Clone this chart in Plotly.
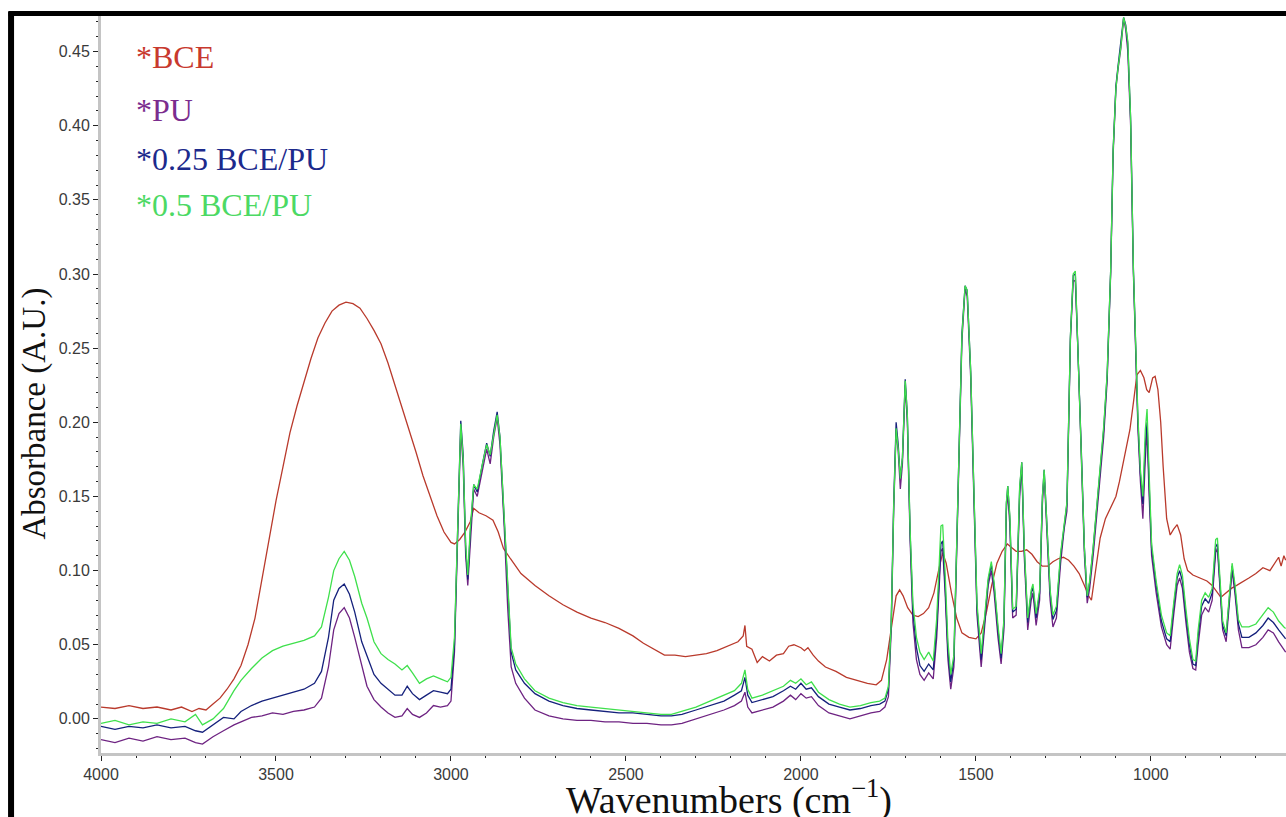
import plotly.graph_objects as go

# ---------------- data ----------------
wn_bce = [4000, 3960, 3920, 3880, 3840, 3800, 3770, 3740, 3720, 3700, 3680, 3660, 3640, 3620, 3600,
          3580, 3560, 3540, 3520, 3500, 3480, 3460, 3440, 3420, 3400, 3380, 3360, 3340, 3320, 3300,
          3280, 3260, 3240, 3220, 3200, 3180, 3160, 3140, 3120, 3100, 3080, 3060, 3040, 3020, 3000,
          2990, 2975, 2960, 2945, 2935, 2920, 2900, 2880, 2865, 2850, 2830, 2800, 2760, 2720, 2680,
          2640, 2600, 2560, 2520, 2480, 2450, 2420, 2390, 2360, 2330, 2300, 2270, 2240, 2210, 2180,
          2165, 2160, 2155, 2140, 2125, 2110, 2090, 2070, 2050, 2035, 2020, 2000, 1990, 1980, 1965,
          1950, 1930, 1900, 1870, 1840, 1810, 1785, 1770, 1755, 1740, 1728, 1718, 1708, 1695, 1680,
          1665, 1650, 1635, 1620, 1605, 1595, 1585, 1570, 1555, 1540, 1520, 1500, 1485, 1470, 1455,
          1440, 1425, 1410, 1400, 1385, 1370, 1355, 1340, 1325, 1310, 1295, 1280, 1265, 1250, 1235,
          1220, 1205, 1190, 1178, 1170, 1160, 1145, 1130, 1115, 1100, 1090, 1075, 1060, 1048, 1040,
          1030, 1020, 1012, 1005, 995, 988, 980, 972, 965, 955, 945, 935, 925, 915, 905,
          895, 880, 860, 840, 825, 812, 800, 790, 780, 770, 755, 740, 720, 700, 680,
          660, 645, 635, 628, 620, 615]
abs_bce = [0.008, 0.007, 0.009, 0.007, 0.008, 0.006, 0.008, 0.005, 0.007, 0.006, 0.010, 0.014, 0.020, 0.027, 0.036,
           0.050, 0.068, 0.095, 0.122, 0.147, 0.170, 0.193, 0.211, 0.227, 0.243, 0.257, 0.267, 0.275, 0.279, 0.281,
           0.280, 0.277, 0.270, 0.262, 0.253, 0.240, 0.225, 0.210, 0.196, 0.180, 0.164, 0.150, 0.137, 0.126, 0.119,
           0.118, 0.121, 0.126, 0.133, 0.142, 0.139, 0.137, 0.134, 0.126, 0.115, 0.108, 0.098, 0.090, 0.083, 0.077,
           0.072, 0.068, 0.065, 0.061, 0.056, 0.051, 0.047, 0.043, 0.043, 0.042, 0.043, 0.044, 0.046, 0.049, 0.052,
           0.056, 0.063, 0.049, 0.047, 0.038, 0.042, 0.039, 0.043, 0.044, 0.049, 0.050, 0.048, 0.046, 0.048, 0.043,
           0.039, 0.035, 0.032, 0.028, 0.026, 0.024, 0.023, 0.026, 0.040, 0.065, 0.083, 0.087, 0.083, 0.075, 0.070,
           0.069, 0.071, 0.075, 0.085, 0.102, 0.112, 0.105, 0.085, 0.068, 0.058, 0.055, 0.054, 0.058, 0.072, 0.090,
           0.105, 0.113, 0.118, 0.116, 0.113, 0.113, 0.114, 0.111, 0.106, 0.103, 0.103, 0.106, 0.108, 0.109, 0.107,
           0.103, 0.098, 0.090, 0.083, 0.080, 0.098, 0.122, 0.135, 0.143, 0.150, 0.160, 0.178, 0.195, 0.217, 0.232,
           0.235, 0.230, 0.222, 0.220, 0.230, 0.231, 0.222, 0.200, 0.170, 0.135, 0.124, 0.128, 0.131, 0.124, 0.108,
           0.100, 0.097, 0.095, 0.093, 0.090, 0.086, 0.082, 0.084, 0.086, 0.088, 0.090, 0.092, 0.095, 0.098, 0.102,
           0.100, 0.105, 0.109, 0.103, 0.110, 0.107]

wn_pu = [4000, 3960, 3920, 3880, 3840, 3800, 3760, 3730, 3710, 3680, 3650, 3620, 3600, 3570, 3540,
         3510, 3480, 3450, 3420, 3390, 3370, 3350, 3335, 3320, 3305, 3290, 3275, 3255, 3240, 3220,
         3200, 3180, 3160, 3140, 3125, 3110, 3090, 3070, 3050, 3030, 3010, 3000, 2990, 2980, 2972,
         2965, 2958, 2952, 2945, 2935, 2925, 2910, 2898, 2888, 2878, 2868, 2860, 2848, 2838, 2828,
         2815, 2790, 2760, 2720, 2680, 2640, 2600, 2560, 2520, 2480, 2440, 2400, 2370, 2340, 2300,
         2260, 2220, 2190, 2170, 2160, 2152, 2140, 2110, 2080, 2050, 2030, 2015, 2000, 1985, 1970,
         1950, 1920, 1890, 1860, 1830, 1800, 1775, 1760, 1750, 1742, 1735, 1728, 1722, 1716, 1710,
         1702, 1696, 1688, 1680, 1670, 1660, 1648, 1635, 1622, 1612, 1600, 1595, 1588, 1580, 1572,
         1563, 1552, 1540, 1531, 1525, 1515, 1505, 1497, 1485, 1475, 1465, 1456, 1448, 1437, 1428,
         1420, 1413, 1409, 1403, 1395, 1385, 1375, 1369, 1362, 1352, 1342, 1337, 1328, 1318, 1310,
         1305, 1298, 1288, 1280, 1270, 1258, 1248, 1240, 1230, 1222, 1216, 1208, 1198, 1190, 1182,
         1175, 1165, 1150, 1135, 1125, 1115, 1108, 1100, 1094, 1086, 1078, 1072, 1066, 1058, 1050,
         1044, 1037, 1030, 1023, 1016, 1011, 1005, 998, 985, 970, 955, 945, 935, 925, 918,
         910, 900, 890, 880, 872, 865, 855, 845, 835, 825, 815, 810, 804, 795, 785,
         775, 768, 760, 750, 740, 720, 700, 680, 665, 650, 635, 620, 615]

abs_pu = [-0.014, -0.016, -0.013, -0.015, -0.012, -0.014, -0.013, -0.016, -0.017, -0.012, -0.008, -0.004, -0.002, 0.001, 0.002,
          0.004, 0.003, 0.005, 0.006, 0.008, 0.014, 0.035, 0.060, 0.071, 0.075, 0.068, 0.055, 0.035, 0.022, 0.013,
          0.008, 0.004, 0.001, 0.002, 0.007, 0.003, 0.001, 0.004, 0.009, 0.008, 0.009, 0.012, 0.045, 0.130, 0.195,
          0.170, 0.110, 0.090, 0.120, 0.155, 0.150, 0.168, 0.182, 0.172, 0.190, 0.203, 0.185, 0.130, 0.075, 0.035,
          0.024, 0.014, 0.006, 0.002, 0.000, -0.001, -0.001, -0.002, -0.002, -0.003, -0.003, -0.004, -0.004, -0.003, 0.000,
          0.003, 0.006, 0.009, 0.012, 0.018, 0.008, 0.004, 0.006, 0.008, 0.012, 0.016, 0.013, 0.017, 0.014, 0.015,
          0.009, 0.004, 0.002, 0.000, 0.002, 0.004, 0.005, 0.008, 0.015, 0.060, 0.140, 0.195, 0.180, 0.155, 0.172,
          0.225, 0.200, 0.120, 0.065, 0.040, 0.030, 0.026, 0.031, 0.027, 0.055, 0.113, 0.115, 0.085, 0.040, 0.020,
          0.035, 0.140, 0.255, 0.290, 0.285, 0.230, 0.140, 0.070, 0.035, 0.060, 0.090, 0.100, 0.085, 0.055, 0.037,
          0.060, 0.140, 0.153, 0.130, 0.068, 0.070, 0.150, 0.170, 0.110, 0.060, 0.080, 0.085, 0.063, 0.080, 0.145,
          0.165, 0.130, 0.080, 0.062, 0.068, 0.105, 0.128, 0.140, 0.255, 0.296, 0.295, 0.245, 0.170, 0.110, 0.078,
          0.088, 0.110, 0.150, 0.190, 0.228, 0.300, 0.380, 0.425, 0.438, 0.452, 0.472, 0.465, 0.450, 0.400, 0.300,
          0.250, 0.195, 0.160, 0.135, 0.175, 0.195, 0.150, 0.110, 0.085, 0.062, 0.050, 0.047, 0.070, 0.090, 0.095,
          0.088, 0.065, 0.045, 0.034, 0.033, 0.050, 0.070, 0.075, 0.072, 0.080, 0.112, 0.115, 0.090, 0.060, 0.052,
          0.080, 0.100, 0.085, 0.060, 0.048, 0.048, 0.050, 0.055, 0.060, 0.058, 0.052, 0.047, 0.045]

abs_025 = [-0.005, -0.007, -0.005, -0.006, -0.004, -0.006, -0.005, -0.008, -0.009, -0.004, 0.001, 0.000, 0.005, 0.009, 0.012,
           0.014, 0.016, 0.018, 0.020, 0.024, 0.032, 0.055, 0.080, 0.088, 0.091, 0.084, 0.072, 0.052, 0.042, 0.030,
           0.024, 0.020, 0.016, 0.016, 0.022, 0.017, 0.013, 0.016, 0.019, 0.018, 0.017, 0.020, 0.050, 0.135, 0.201,
           0.178, 0.115, 0.094, 0.125, 0.158, 0.153, 0.172, 0.186, 0.177, 0.194, 0.207, 0.190, 0.135, 0.085, 0.045,
           0.033, 0.024, 0.017, 0.012, 0.009, 0.007, 0.006, 0.005, 0.004, 0.004, 0.003, 0.002, 0.002, 0.003, 0.006,
           0.009, 0.012, 0.016, 0.019, 0.028, 0.016, 0.011, 0.013, 0.015, 0.019, 0.022, 0.020, 0.024, 0.020, 0.021,
           0.015, 0.010, 0.008, 0.006, 0.007, 0.009, 0.010, 0.012, 0.020, 0.065, 0.145, 0.200, 0.185, 0.162, 0.176,
           0.229, 0.205, 0.125, 0.072, 0.048, 0.036, 0.032, 0.037, 0.033, 0.062, 0.118, 0.120, 0.090, 0.046, 0.025,
           0.040, 0.145, 0.260, 0.292, 0.289, 0.235, 0.145, 0.075, 0.040, 0.065, 0.093, 0.104, 0.090, 0.060, 0.041,
           0.065, 0.145, 0.157, 0.135, 0.072, 0.074, 0.155, 0.173, 0.115, 0.065, 0.085, 0.089, 0.068, 0.085, 0.150,
           0.168, 0.135, 0.085, 0.067, 0.073, 0.110, 0.132, 0.145, 0.258, 0.299, 0.300, 0.248, 0.175, 0.115, 0.082,
           0.092, 0.115, 0.155, 0.195, 0.232, 0.302, 0.383, 0.427, 0.440, 0.455, 0.473, 0.468, 0.455, 0.405, 0.303,
           0.255, 0.200, 0.165, 0.145, 0.185, 0.200, 0.158, 0.115, 0.090, 0.066, 0.054, 0.052, 0.075, 0.095, 0.100,
           0.093, 0.070, 0.050, 0.037, 0.036, 0.056, 0.076, 0.081, 0.078, 0.085, 0.116, 0.118, 0.093, 0.063, 0.056,
           0.085, 0.103, 0.088, 0.064, 0.055, 0.055, 0.058, 0.063, 0.068, 0.065, 0.060, 0.055, 0.054]

abs_05 = [-0.003, -0.001, -0.004, -0.002, -0.003, 0.000, -0.002, 0.003, -0.004, 0.000, 0.007, 0.019, 0.026, 0.034, 0.041,
          0.046, 0.049, 0.051, 0.053, 0.056, 0.062, 0.082, 0.100, 0.108, 0.113, 0.107, 0.096, 0.078, 0.068, 0.052,
          0.044, 0.040, 0.037, 0.033, 0.036, 0.031, 0.024, 0.027, 0.029, 0.027, 0.025, 0.028, 0.055, 0.135, 0.199,
          0.175, 0.118, 0.097, 0.128, 0.158, 0.155, 0.172, 0.185, 0.178, 0.193, 0.205, 0.190, 0.137, 0.090, 0.048,
          0.037, 0.027, 0.019, 0.014, 0.011, 0.009, 0.008, 0.007, 0.006, 0.005, 0.004, 0.003, 0.003, 0.005, 0.008,
          0.012, 0.016, 0.019, 0.024, 0.033, 0.020, 0.014, 0.016, 0.019, 0.022, 0.026, 0.024, 0.027, 0.023, 0.025,
          0.018, 0.013, 0.010, 0.008, 0.009, 0.011, 0.012, 0.014, 0.022, 0.065, 0.143, 0.196, 0.182, 0.162, 0.176,
          0.228, 0.205, 0.127, 0.078, 0.055, 0.045, 0.040, 0.045, 0.039, 0.068, 0.130, 0.131, 0.098, 0.052, 0.030,
          0.043, 0.145, 0.258, 0.292, 0.289, 0.235, 0.146, 0.078, 0.044, 0.068, 0.095, 0.106, 0.092, 0.063, 0.044,
          0.067, 0.146, 0.157, 0.137, 0.074, 0.076, 0.157, 0.173, 0.117, 0.068, 0.087, 0.091, 0.071, 0.087, 0.150,
          0.168, 0.135, 0.087, 0.070, 0.076, 0.112, 0.133, 0.146, 0.258, 0.300, 0.302, 0.248, 0.175, 0.115, 0.083,
          0.093, 0.116, 0.156, 0.197, 0.233, 0.302, 0.383, 0.425, 0.439, 0.453, 0.473, 0.467, 0.457, 0.405, 0.303,
          0.258, 0.203, 0.168, 0.150, 0.195, 0.209, 0.165, 0.118, 0.093, 0.070, 0.058, 0.056, 0.078, 0.098, 0.104,
          0.097, 0.074, 0.054, 0.040, 0.039, 0.060, 0.080, 0.085, 0.082, 0.088, 0.121, 0.122, 0.096, 0.066, 0.058,
          0.088, 0.105, 0.091, 0.067, 0.062, 0.062, 0.064, 0.070, 0.075, 0.072, 0.066, 0.062, 0.061]

series_names = ["*BCE", "*PU", "*0.25 BCE/PU", "*0.5 BCE/PU"]
line_colors = ["#b93a2c", "#6e2382", "#15217c", "#3fe04c"]
label_colors = ["#c8392e", "#7b2d8e", "#1c2a8c", "#4cd964"]

y_ticks = [0.00, 0.05, 0.10, 0.15, 0.20, 0.25, 0.30, 0.35, 0.40, 0.45]
x_ticks = [4000, 3500, 3000, 2500, 2000, 1500, 1000]

# ---------------- figure ----------------
fig = go.Figure()
xs = [wn_bce, wn_pu, wn_pu, wn_pu]
ys = [abs_bce, abs_pu, abs_025, abs_05]
for name, x, y, c in zip(series_names, xs, ys, line_colors):
    fig.add_trace(go.Scatter(x=x, y=y, mode="lines", name=name,
                             line=dict(color=c, width=1.3), showlegend=False))

tick_font = dict(family="Liberation Sans, Arial", size=16, color="#3a3a3a")
fig.update_layout(
    width=1286, height=817,
    paper_bgcolor="white", plot_bgcolor="white",
    margin=dict(l=101, r=0, t=16, b=64),
    xaxis=dict(range=[4000, 614], tickvals=x_ticks, ticktext=[str(v) for v in x_ticks],
               showgrid=False, zeroline=False, showline=True, linecolor="#c4c4c4", linewidth=3,
               ticks="outside", ticklen=5, tickcolor="#222", tickwidth=1, tickfont=tick_font,
               minor=dict(dtick=100, tick0=4000, ticks="outside", ticklen=2, tickcolor="#222", showgrid=False)),
    yaxis=dict(range=[-0.023, 0.474], tickvals=y_ticks, ticktext=[f"{v:.2f}" for v in y_ticks],
               showgrid=False, zeroline=False, showline=True, linecolor="#c4c4c4", linewidth=3,
               ticks="outside", ticklen=5, tickcolor="#222", tickwidth=1, tickfont=tick_font,
               minor=dict(dtick=0.01, tick0=0, ticks="outside", ticklen=2, tickcolor="#222", showgrid=False)),
)

serif = "Liberation Serif, Times New Roman, serif"
# legend labels as coloured text
legend_y = [0.944, 0.873, 0.806, 0.744]
for name, col, yy in zip(series_names, label_colors, legend_y):
    fig.add_annotation(x=0.028, y=yy, xref="paper", yref="paper", text=name, showarrow=False,
                       xanchor="left", yanchor="middle", font=dict(family=serif, size=32, color=col))

# axis titles
fig.add_annotation(x=-0.056, y=0.46, xref="paper", yref="paper", text="Absorbance (A.U.)",
                   textangle=-90, showarrow=False, xanchor="center", yanchor="middle",
                   font=dict(family=serif, size=33, color="#111"))
fig.add_annotation(x=0.53, y=-0.097, xref="paper", yref="paper",
                   text="Wavenumbers (cm<sup>−1</sup>)", showarrow=False,
                   xanchor="center", yanchor="bottom", font=dict(family=serif, size=38, color="#111"))

# black frame lines (left and top)
fig.add_shape(type="line", xref="paper", yref="paper", x0=-0.0759, x1=-0.0759, y0=1.006, y1=-0.09,
              line=dict(color="black", width=6))
fig.add_shape(type="line", xref="paper", yref="paper", x0=-0.078, x1=1.0, y0=1.0035, y1=1.0035,
              line=dict(color="black", width=5))

fig.write_html("out.html", config={"displayModeBar": False},
               post_script="document.body.style.margin='0px';document.body.style.overflow='hidden';")
